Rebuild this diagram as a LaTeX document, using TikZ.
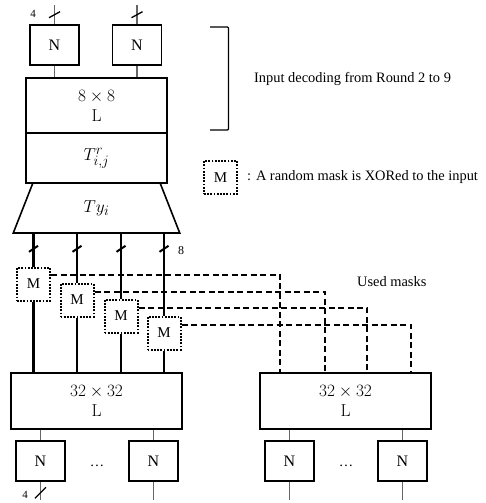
\documentclass[tikz,border=0pt]{standalone}
\usepackage[no-math]{fontspec}
\setmainfont{Liberation Serif}
\DeclareMathSizes{17.28}{17.28}{14.4}{12}
\usetikzlibrary{shapes.geometric, positioning, calc}
\tikzset{
  cajan/.style={rectangle, draw, line width=1.6pt, minimum width=49pt, minimum height=40pt,
                inner sep=0pt, font=\fontsize{16}{18}\selectfont},
  cajal/.style={rectangle, draw, line width=1.6pt, align=center, inner sep=0pt,
                font=\fontsize{17.28}{20}\selectfont},
  mascara/.style={rectangle, draw, line width=2pt, dash pattern=on 1.8pt off 1.4pt,
                  minimum size=33pt, inner sep=0pt, font=\fontsize{15}{18}\selectfont},
  hilo/.style={line width=1.1pt, color=black!60},
  grueso/.style={line width=2.8pt},
  usada/.style={line width=1.8pt, dash pattern=on 6pt off 3.5pt},
  barra/.style={line width=1.3pt},
  etiqueta/.style={inner sep=0pt, font=\fontsize{14.4}{17}\selectfont},
  cifra/.style={inner sep=0pt, font=\fontsize{11}{13}\selectfont}
}
\begin{document}
\begin{tikzpicture}[x=1pt, y=-1pt]
  \useasboundingbox (0,0) rectangle (485,503);
  \coordinate (ini) at (0,5);
  \coordinate (fin) at (0,500);
  % Parte superior: decodificacion de la entrada
  \node (n1) [cajan] at (54.5,45) {N};
  \node (n2) [cajan] at (137,45) {N};
  \node (l1) [cajal, minimum width=141pt, minimum height=55pt] at (96.5,105.5) {$8\times 8$\\ $\mathrm{L}$};
  \node (t1) [cajal, minimum width=141pt, minimum height=49.5pt] at (96.5,158) {$T^{r}_{i,j}$};
  \node (ty) [cajal, trapezium, trapezium stretches=true, trapezium left angle=75.4,
              trapezium right angle=75.4, minimum width=167pt, minimum height=50pt] at (96.5,208) {$Ty_i$};
  \draw [hilo] (n1.north |- ini) -- (n1.north); \draw [hilo] (n2.north |- ini) -- (n2.north);
  \draw [hilo] (n1.south) -- (n1.south |- l1.north); \draw [hilo] (n2.south) -- (n2.south |- l1.north);
  \draw [barra] ($(n1.north)+(-5.5,-6.5)$) -- ($(n1.north)+(5.5,-12.5)$);
  \draw [barra] ($(n2.north)+(-5.5,-6.5)$) -- ($(n2.north)+(5.5,-12.5)$);
  \node (cuatro1) [cifra] at (33,14) {4};
  \draw [line width=1.3pt, rounded corners=1pt] (210,27) -- (228.5,27) -- (228.5,130) -- (210,130);
  \node (decod) [etiqueta, anchor=west] at (254,79) {Input decoding from Round 2 to 9};
  % Leyenda
  \node (mley) [mascara] at (220.5,177.5) {M};
  \node (ley) [etiqueta, anchor=west, right=9pt of mley] {: A random mask is XORed to the input};
  % Mascaras
  \node (m1) [mascara] at (33.5,284) {M};
  \node (m2) [mascara] at (77,300) {M};
  \node (m3) [mascara] at (121,316) {M};
  \node (m4) [mascara] at (164,333) {M};
  \node (l2) [cajal, minimum width=171pt, minimum height=56pt] at (96.5,401) {$32\times 32$\\ $\mathrm{L}$};
  \node (l3) [cajal, minimum width=171pt, minimum height=56pt] at (345.5,401) {$32\times 32$\\ $\mathrm{L}$};
  \draw [usada] ([yshift=9pt]m1.east) -| ([xshift=21pt]l3.north west);
  \draw [usada] ([yshift=8pt]m2.east) -| ([xshift=66pt]l3.north west);
  \draw [usada] ([yshift=8pt]m3.east) -| ([xshift=108pt]l3.north west);
  \draw [usada] ([yshift=8pt]m4.east) -| ([xshift=152pt]l3.north west);
  \draw [grueso] (m1.north |- ty.south) -- (m1.north); \draw [grueso] (m1.south) -- (m1.south |- l2.north);
  \draw [grueso] (m2.north |- ty.south) -- (m2.north); \draw [grueso] (m2.south) -- (m2.south |- l2.north);
  \draw [grueso] (m3.north |- ty.south) -- (m3.north); \draw [grueso] (m3.south) -- (m3.south |- l2.north);
  \draw [grueso] (m4.north |- ty.south) -- (m4.north); \draw [grueso] (m4.south) -- (m4.south |- l2.north);
  \draw [barra, line width=2pt] ($(m1.north |- ty.south)+(-4.5,18)$) -- ($(m1.north |- ty.south)+(4.5,12)$);
  \draw [barra, line width=2pt] ($(m2.north |- ty.south)+(-4.5,18)$) -- ($(m2.north |- ty.south)+(4.5,12)$);
  \draw [barra, line width=2pt] ($(m3.north |- ty.south)+(-4.5,18)$) -- ($(m3.north |- ty.south)+(4.5,12)$);
  \draw [barra, line width=2pt] ($(m4.north |- ty.south)+(-4.5,18)$) -- ($(m4.north |- ty.south)+(4.5,12)$);
  \node (ocho) [cifra, font=\fontsize{12}{14}\selectfont] at (181,251) {8};
  \node (usadas) [etiqueta, anchor=west] at (357,282) {Used masks};
  % Parte inferior
  \node (n3) [cajan] at (40.5,461) {N};
  \node (n4) [cajan] at (153.5,461) {N};
  \node (n5) [cajan] at (289.5,461) {N};
  \node (n6) [cajan] at (402.5,461) {N};
  \node (pts1) [etiqueta] at (97,466) {\dots};
  \node (pts2) [etiqueta] at (346,466) {\dots};
  \draw [hilo] (n3.north |- l2.south) -- (n3.north); \draw [hilo] (n4.north |- l2.south) -- (n4.north);
  \draw [hilo] (n5.north |- l3.south) -- (n5.north); \draw [hilo] (n6.north |- l3.south) -- (n6.north);
  \draw [hilo] (n3.south) -- (n3.south |- fin); \draw [hilo] (n4.south) -- (n4.south |- fin);
  \draw [hilo] (n5.south) -- (n5.south |- fin); \draw [hilo] (n6.south) -- (n6.south |- fin);
  \draw [barra] ($(n3.south)+(-5.5,16.5)$) -- ($(n3.south)+(5.5,5.5)$);
  \node (cuatro2) [cifra] at (25,495) {4};
\end{tikzpicture}
\end{document}
